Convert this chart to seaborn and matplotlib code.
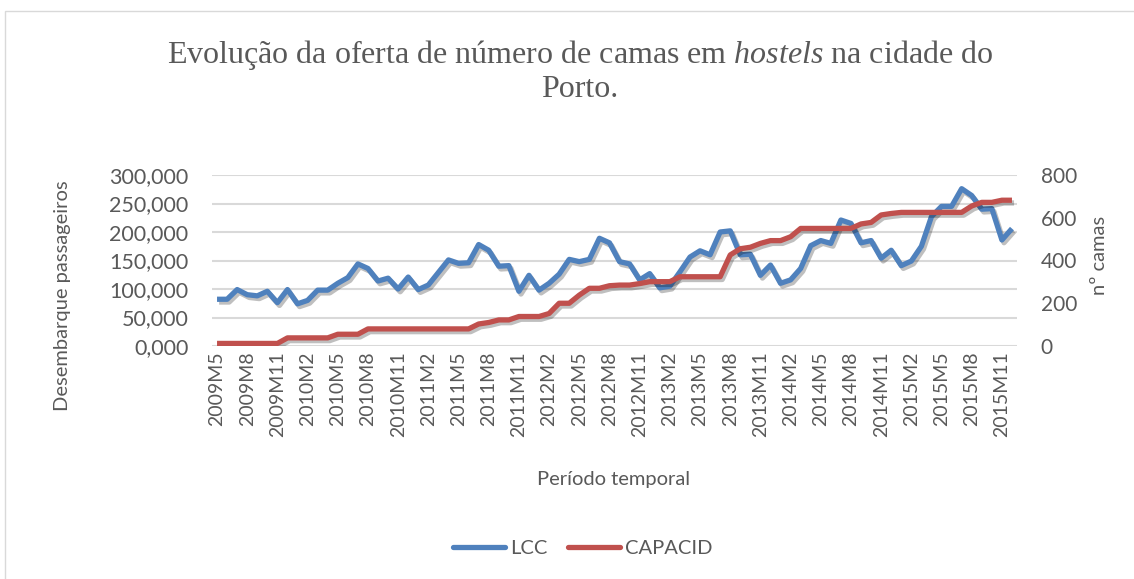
import numpy as np
import pandas as pd
import matplotlib
matplotlib.use("Agg")
import matplotlib.pyplot as plt
import matplotlib.patheffects as pe
from matplotlib.patches import Rectangle
import seaborn as sns

# monthly periods 2009M5 .. 2015M12
periodos = [f"{a}M{m}" for a in range(2009, 2016) for m in range(1, 13)][4:]

# LCC passengers (thousands)
lcc_mil = [82, 82, 99, 90, 88, 96, 76, 99, 74, 80,
           98, 98, 110, 120, 144, 136, 114, 119, 100, 121,
           99, 107, 129, 151, 145, 146, 178, 168, 140, 141,
           96, 124, 98, 110, 126, 152, 148, 152, 189, 181,
           148, 144, 116, 127, 102, 105, 130, 156, 167, 160,
           200, 202, 160, 161, 124, 142, 110, 116, 136, 176,
           185, 180, 221, 215, 181, 185, 154, 168, 141, 149,
           175, 227, 245, 245, 276, 264, 240, 241, 186, 206]

# hostel beds (right axis)
capacid = [12, 12, 12, 12, 12, 12, 12, 38, 38, 38,
           38, 38, 55, 55, 55, 80, 80, 80, 80, 80,
           80, 80, 80, 80, 80, 80, 103, 110, 122, 122,
           138, 138, 138, 152, 200, 200, 238, 270, 270, 282,
           285, 285, 292, 301, 301, 301, 324, 324, 324, 324,
           324, 426, 455, 462, 480, 493, 493, 511, 550, 550,
           550, 550, 550, 550, 571, 578, 613, 620, 625, 625,
           625, 625, 625, 625, 625, 655, 672, 672, 682, 682]

df = pd.DataFrame({
    "idx": np.arange(len(periodos)),
    "periodo": periodos,
    "LCC": np.array(lcc_mil) * 1000,
    "CAPACID": capacid,
})

sns.set_style("white")
plt.rcParams["font.family"] = ["Lato", "DejaVu Sans"]
plt.rcParams["mathtext.fontset"] = "custom"
plt.rcParams["mathtext.rm"] = "Liberation Serif"
plt.rcParams["mathtext.it"] = "Liberation Serif:italic"

azul = "#4F81BD"
verm = "#C0504D"
cinza = "#595959"
grelha = "#D9D9D9"

W, H = 1134, 579
fig = plt.figure(figsize=(W / 100, H / 100), dpi=100)
fig.patches.append(Rectangle((5 / W, -0.1), 1.2, 1 - 11 / H + 0.1, transform=fig.transFigure,
                             fill=False, edgecolor=grelha, lw=1))

ax = fig.add_axes([212 / W, 1 - 346 / H, 805 / W, 171 / H])
ax2 = ax.twinx()

sombra = [pe.SimpleLineShadow(offset=(1.5, -2), alpha=0.25, shadow_color="black"), pe.Normal()]

sns.lineplot(data=df, x="idx", y="LCC", ax=ax, color=azul, lw=3.8, legend=False)
sns.lineplot(data=df, x="idx", y="CAPACID", ax=ax2, color=verm, lw=3.8, legend=False)
for a in (ax, ax2):
    for ln in a.lines:
        ln.set_solid_joinstyle("round")
        ln.set_solid_capstyle("butt")
        ln.set_path_effects(sombra)

ax.set_xlim(-0.5, len(periodos) - 0.5)
ax.set_ylim(0, 300000)
ax2.set_ylim(0, 800)
ax.set_yticks(np.arange(0, 300001, 50000))
ax.set_yticklabels([f"{int(v) // 1000},{int(v) % 1000:03d}" for v in ax.get_yticks()])
ax2.set_yticks(np.arange(0, 801, 200))

ticks = df["idx"][::3]
ax.set_xticks(ticks)
ax.set_xticklabels(df["periodo"][::3], rotation=90)

ax.grid(axis="y", color=grelha, lw=1.5)
ax.grid(axis="x", visible=False)
ax2.grid(False)
ax.set_axisbelow(True)
for a in (ax, ax2):
    for s in a.spines.values():
        s.set_visible(False)

ax.tick_params(axis="y", length=0, pad=17, labelsize=15.5, labelcolor=cinza)
ax.tick_params(axis="x", length=0, pad=4, labelsize=14, labelcolor=cinza)
ax2.tick_params(axis="y", length=0, pad=17, labelsize=15, labelcolor=cinza)

ax.set_xlabel("Período temporal", fontsize=14.5, color=cinza)
ax.set_ylabel("Desembarque passageiros", fontsize=14.5, color=cinza)
ax2.set_ylabel("nº camas", fontsize=14.5, color=cinza)
ax.xaxis.set_label_coords((614 - 212) / 805, (346 - 471) / 171)
ax.yaxis.set_label_coords((71 - 212) / 805, (346 - 296) / 171)
ax2.yaxis.set_label_coords((1091 - 212) / 805, (346 - 255) / 171)

fig.text(580 / W, 1 - 71 / H,
         "Evolução da oferta de número de camas em $\\mathit{hostels}$ na cidade do\nPorto.",
         ha="center", va="center", fontsize=23, color=cinza, family="Liberation Serif",
         linespacing=1.15)

handles = [plt.Line2D([], [], color=azul, lw=3.8), plt.Line2D([], [], color=verm, lw=3.8)]
fig.legend(handles, ["LCC", "CAPACID"], loc="center", bbox_to_anchor=(583 / W, 1 - 548 / H),
           ncol=2, frameon=False, fontsize=14.5, handlelength=2.6, handletextpad=0.25,
           columnspacing=1.0, labelcolor=cinza)

fig.savefig("out.png", dpi=100)
